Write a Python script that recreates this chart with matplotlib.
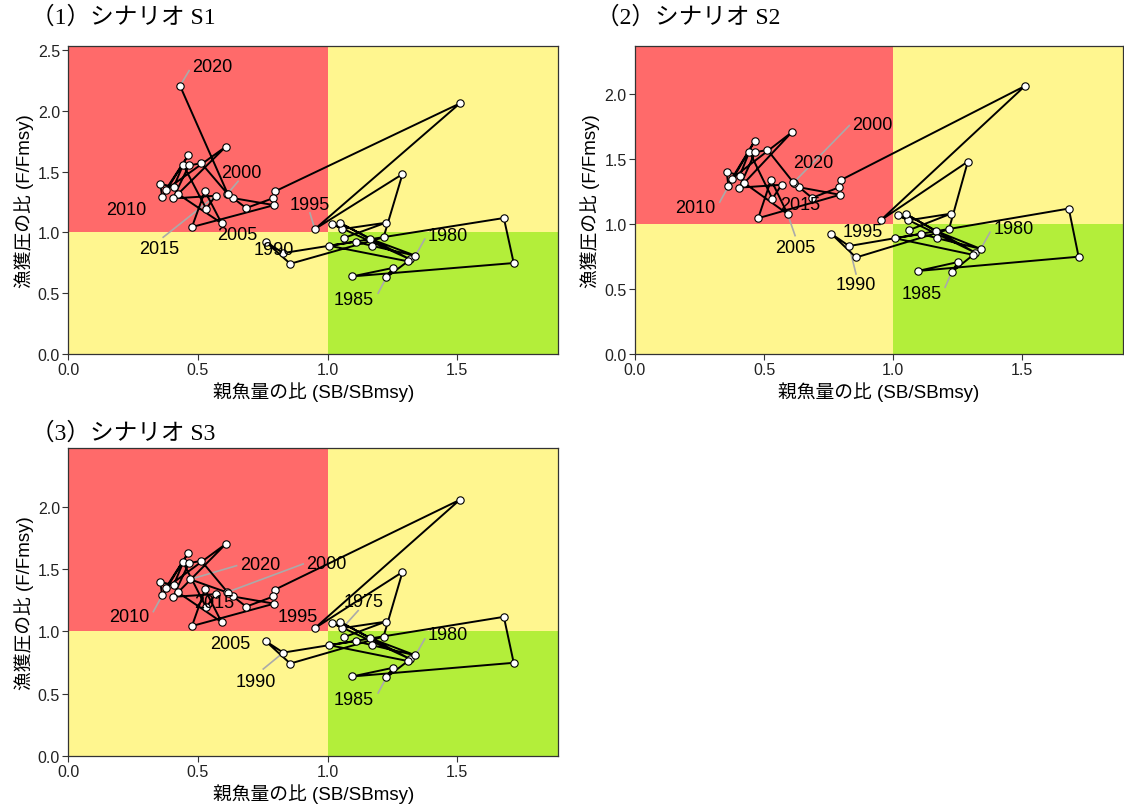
import matplotlib
matplotlib.use("Agg")
import matplotlib.pyplot as plt
from matplotlib.patches import Rectangle

plt.rcParams['font.family'] = ['Liberation Sans', 'Noto Sans CJK JP', 'DejaVu Sans']

# ---------------- data ----------------
years = list(range(1973, 2020))
sb_ratio = [1.062, 1.224, 1.057, 1.019, 1.317, 1.049, 1.164, 1.339,
            1.170, 1.109, 1.006, 1.310, 1.227, 1.251, 1.095, 1.718, 1.680, 0.829,
            0.761, 0.856, 1.216, 1.289, 0.951, 1.510, 0.797, 0.791, 0.686, 0.614,
            0.635, 0.794, 0.477, 0.527, 0.591, 0.423, 0.607, 0.375, 0.463, 0.362,
            0.355, 0.406, 0.443, 0.532, 0.568, 0.404, 0.465, 0.513, 0.616]
f_ratio = [0.953, 1.079, 1.027, 1.068, 0.780, 1.076, 0.947, 0.808,
           0.890, 0.923, 0.890, 0.762, 0.630, 0.707, 0.638, 0.748, 1.118, 0.830,
           0.923, 0.742, 0.959, 1.479, 1.027, 2.060, 1.337, 1.282, 1.200, 1.317,
           1.282, 1.224, 1.044, 1.339, 1.076, 1.315, 1.704, 1.348, 1.635, 1.290,
           1.400, 1.372, 1.556, 1.194, 1.301, 1.279, 1.550, 1.569, 1.312]
final_year = 2020
scenarios = ["（1）シナリオ S1", "（2）シナリオ S2", "（3）シナリオ S3"]
sb_final = [0.431, 0.613, 0.470]
f_final = [2.205, 1.320, 1.420]
label_years = [1975, 1980, 1985, 1990, 1995, 2000, 2005, 2010, 2015, 2020]

# ---------------- layout / style ----------------
W, H = 1124, 812
RED, YEL, GRN = "#FF6A6A", "#FFF68F", "#B3EE3A"
XMAX = 1.89
ymaxes = [2.53, 2.37, 2.475]
yticks = [[0, 0.5, 1.0, 1.5, 2.0, 2.5], [0, 0.5, 1.0, 1.5, 2.0], [0, 0.5, 1.0, 1.5, 2.0]]
# axes boxes in pixels: left, top, right, bottom
boxes = [(68.3, 47.3, 558.3, 355.0), (635.0, 46.7, 1123.0, 355.0), (68.3, 449.3, 558.3, 756.7)]
title_pos = [(31, 18), (596, 18), (31, 433)]

# label text positions (data coords) and optional leader start
label_pos = [
    {2020: (0.557, 2.364, (0.466, 2.33)), 2000: (0.666, 1.493, (0.655, 1.42)),
     2010: (0.225, 1.186, None), 1995: (0.932, 1.227, (0.932, 1.16)),
     2005: (0.653, 0.986, None), 2015: (0.350, 0.871, (0.366, 0.96)),
     1990: (0.794, 0.863, None), 1980: (1.465, 0.972, (1.375, 0.945)),
     1985: (1.101, 0.452, (1.195, 0.50))},
    {2000: (0.920, 1.762, (0.830, 1.756)), 2020: (0.689, 1.469, None),
     2010: (0.234, 1.128, (0.328, 1.167)), 2015: (0.640, 1.149, None),
     2005: (0.620, 0.821, (0.620, 0.91)), 1995: (0.882, 0.941, None),
     1990: (0.856, 0.531, (0.856, 0.615)), 1985: (1.111, 0.462, (1.201, 0.513)),
     1980: (1.467, 0.967, (1.375, 0.936))},
    {2020: (0.742, 1.541, (0.649, 1.53)), 2000: (0.994, 1.546, (0.906, 1.544)),
     2010: (0.235, 1.122, (0.328, 1.16)), 2015: (0.562, 1.235, None),
     1995: (0.884, 1.119, None), 1975: (1.138, 1.240, (1.118, 1.168)),
     2005: (0.623, 0.907, None), 1990: (0.722, 0.596, (0.752, 0.698)),
     1985: (1.102, 0.456, (1.195, 0.505)), 1980: (1.465, 0.972, (1.375, 0.94))},
]

fig = plt.figure(figsize=(W / 100, H / 100), dpi=100)

for pi in range(3):
    l, t, r, b = boxes[pi]
    ax = fig.add_axes([l / W, (H - b) / H, (r - l) / W, (b - t) / H])
    ymax = ymaxes[pi]
    ax.set_xlim(0, XMAX)
    ax.set_ylim(0, ymax)
    ax.add_patch(Rectangle((0, 1), 1, ymax - 1, color=RED, lw=0, zorder=0))
    ax.add_patch(Rectangle((1, 1), XMAX - 1, ymax - 1, color=YEL, lw=0, zorder=0))
    ax.add_patch(Rectangle((0, 0), 1, 1, color=YEL, lw=0, zorder=0))
    ax.add_patch(Rectangle((1, 0), XMAX - 1, 1, color=GRN, lw=0, zorder=0))

    xs = sb_ratio + [sb_final[pi]]
    ys = f_ratio + [f_final[pi]]
    yrs = years + [final_year]
    ax.plot(xs, ys, color="black", lw=1.4, zorder=2)
    ax.plot(xs, ys, ls="none", marker="o", ms=5.3, mfc="white", mec="black",
            mew=0.8, zorder=3)

    for yr, (tx, ty, lead) in label_pos[pi].items():
        idx = yrs.index(yr)
        px, py = xs[idx], ys[idx]
        if lead is not None:
            ax.plot([lead[0], px], [lead[1], py], color="#AAAAAA", lw=1.2, zorder=1.5)
        ax.text(tx, ty, str(yr), fontsize=13, ha="center", va="center",
                color="black", zorder=4)

    ax.set_xticks([0, 0.5, 1.0, 1.5])
    ax.set_xticklabels(["0.0", "0.5", "1.0", "1.5"])
    ax.set_yticks(yticks[pi])
    ax.set_yticklabels([f"{v:.1f}" for v in yticks[pi]])
    ax.tick_params(direction="out", length=4, width=0.8, color="#333333",
                   labelsize=11.5, labelcolor="#222222", pad=2)
    for sp in ax.spines.values():
        sp.set_color("#333333")
        sp.set_linewidth(0.9)
    ax.set_xlabel("親魚量の比 (SB/SBmsy)", fontsize=13.5, labelpad=3)
    ax.set_ylabel("漁獲圧の比 (F/Fmsy)", fontsize=13.5, labelpad=3)

    tx, ty = title_pos[pi]
    fig.text(tx / W, 1 - ty / H, scenarios[pi], fontsize=17, ha="left", va="center",
             family=['Liberation Serif', 'Noto Sans CJK JP'])

fig.savefig("out.png", dpi=100)
